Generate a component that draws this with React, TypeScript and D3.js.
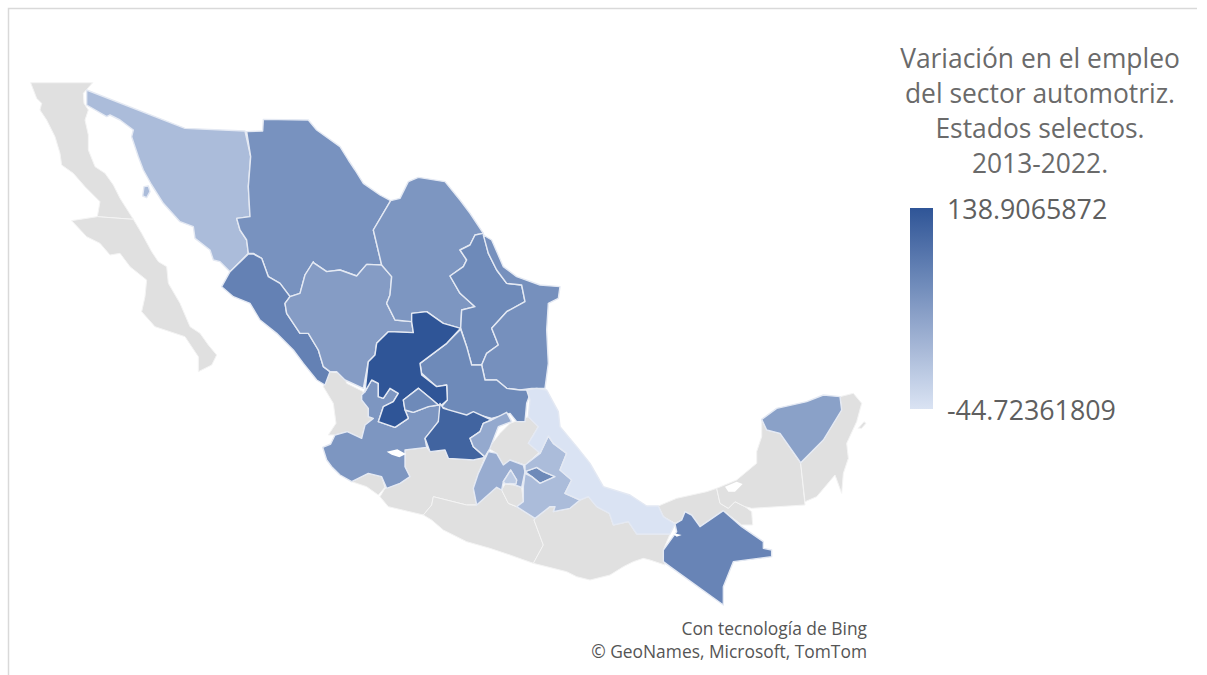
import React from "react";
import * as d3 from "d3";

type Pt = [number, number];

// Outlines were digitised on local survey sheets at 3 grid units per map unit.
const sheet = (ox: number, oy: number) => (...n: number[]): Pt[] => {
  const out: Pt[] = [];
  for (let i = 0; i < n.length; i += 2) out.push([ox + n[i] / 3, oy + n[i + 1] / 3]);
  return out;
};
const nw = sheet(20, 70);
const north = sheet(300, 170);
const centre = sheet(310, 360);
const isthmus = sheet(560, 380);
const valley = sheet(460, 410);
const bajio = sheet(350, 350);

const titleLines = ["Variación en el empleo", "del sector automotriz.", "Estados selectos.", "2013-2022."];
const legendMax = 138.9065872;
const legendMin = -44.72361809;
const legendLabels = ["138.9065872", "-44.72361809"];
const creditLines = ["Con tecnología de Bing", "© GeoNames, Microsoft, TomTom"];

// Estimated employment change per state; null means no data for that state.
const stateNames = [
  "Baja California", "Baja California Sur", "Nayarit", "Colima", "Michoacán", "Guerrero", "Morelos", "Hidalgo",
  "Oaxaca", "Tabasco", "Campeche", "Quintana Roo", "Sonora", "Chihuahua", "Sinaloa", "Durango", "Coahuila",
  "Nuevo León", "Tamaulipas", "San Luis Potosí", "Jalisco", "Zacatecas", "Aguascalientes", "Guanajuato",
  "Querétaro", "Estado de México", "Ciudad de México", "Tlaxcala", "Puebla", "Veracruz", "Yucatán", "Chiapas",
];
const stateValues: (number | null)[] = [
  null, null, null, null, null, null, null, null,
  null, null, null, null, 6, 60, 82, 47, 55,
  71, 63, 71, 55, 138.9, 71, 120,
  30, 26, -15, 71, 6, -44.7, 41, 78,
];

const stateOutlines: Pt[][][] = [
  [nw(32,38,218,38,190,70,192,100,205,120,195,150,205,195,205,240,225,290,255,310,280,345,300,385,340,448,232,440,240,395,195,350,160,310,125,285,120,250,105,200,80,150,60,120,65,100,50,85)],
  [nw(232,440,340,448,365,490,395,545,415,575,440,590,445,640,480,700,510,770,540,790,565,825,590,855,575,885,535,905,535,860,495,800,405,770,365,725,375,680,380,630,330,590,300,550,270,555,240,520,200,500,155,452)],
  [centre(55,35,100,40,110,70,160,95,155,120,175,145,175,170,190,175,165,195,155,235,112,215,75,225,55,225,78,190,70,130,40,80)],
  [centre(125,365,175,340,215,350,225,382,205,405,170,380)],
  [[...centre(285,270,350,262,360,275,405,270,415,295,490,300,525,292), ...valley(55,190,40,235,50,285), ...centre(470,435,370,410,365,435,340,465,235,440,210,410,225,385,270,370,300,350,285,320,285,290)]],
  [[...centre(340,465,365,435,370,410,470,435), ...valley(50,285,110,232,125,240,145,280,170,290,225,325), ...centre(672,480,700,555,670,610,600,585,540,565,470,545,400,510,365,480)]],
  [valley(125,240,135,222,162,225,185,232,190,275,170,290,145,280)],
  [valley(85,115,120,70,150,40,205,20,235,50,205,100,250,90,235,130,195,165,150,150,130,165,110,130)],
  [[...centre(670,610,700,555,672,480), ...valley(225,325,270,290,285,290,280,305,330,295,360,270), ...isthmus(85,350,110,380,148,400,160,435,205,425,230,462,330,462,310,510,315,555,270,540,250,535,220,545,190,560,150,585,90,600,50,590,20,575,0,570)]],
  [isthmus(295,378,350,355,440,335,470,325,480,370,505,385,525,365,555,380,575,395,578,435,545,435,490,392,420,440,395,405,375,395,365,420,345,430,310,410)],
  [isthmus(605,120,620,150,660,160,722,250,735,375,575,385,555,380,525,365,505,385,480,370,470,325,530,300,590,250,590,215,605,170)],
  [isthmus(840,50,880,40,905,70,890,125,860,190,865,235,850,280,845,340,825,285,770,350,735,365,722,250,790,180,845,90), isthmus(895,145,912,125,918,130,905,145)],
  [nw(200,60,495,175,675,183,692,260,685,350,690,440,650,445,660,480,680,510,685,550,630,605,600,575,580,570,570,540,525,505,520,470,480,455,430,400,395,345,370,300,355,260,335,200,340,180,300,150,270,135,260,140,200,105), nw(372,350,385,348,390,365,380,383,368,378)],
  [[...nw(680,185,728,183,730,148,865,150,890,180,960,230,985,270), ...north(165,0,190,40,240,75,272,92,220,180,245,285,200,283,170,318,120,300,80,305,40,278), ...nw(855,615,840,670,810,680,780,640,745,620,725,565,700,550,685,550,680,510,660,480,650,445,690,440,685,350,692,260)]],
  [[...nw(700,552,725,565,745,620,780,640,810,680,795,700,800,730,840,790), ...north(25,490,55,540,70,590,90,605,75,645,50,630), ...nw(850,880,820,840,770,790,720,750,690,700,640,680,605,650,630,605,685,552)]],
  [[...north(40,278,80,305,120,300,170,318,200,283,245,285,275,320,270,375,260,400,285,450,335,455,340,488,265,485,230,520,225,555,205,575,190,655,135,630,110,605,90,605,70,590,55,540,25,490), ...nw(840,790,800,730,795,700,810,680,840,670,855,615,880,575)]],
  [north(272,92,300,85,325,35,355,22,435,35,480,90,510,130,550,190,525,195,510,225,480,240,500,270,490,290,450,318,480,370,525,410,485,420,482,475,430,460,380,425,335,430,335,455,285,450,260,400,270,375,275,320,245,285,220,180)],
  [north(525,195,550,190,565,250,590,300,620,340,665,345,675,395,620,425,575,475,595,525,560,550,545,585,515,585,500,530,482,475,485,420,525,410,480,370,450,318,490,290,500,270,480,240,510,225)],
  [north(550,195,575,210,610,290,650,320,720,345,780,350,775,385,745,400,740,480,745,580,735,655,695,655,660,660,620,655,590,630,555,630,545,585,560,550,595,525,575,475,620,425,675,395,665,345,620,340,590,300,565,250)],
  [[...north(482,478,500,530,515,585,545,585,555,630,590,630,620,655,660,660,695,660,680,700,675,755,650,755,630,730,575,745,520,730,495,745,425,710), ...bajio(292,150,290,105,260,110), ...north(365,610,360,580,400,550,440,520)]],
  [[...bajio(35,135,45,125,65,90,85,100,85,140,100,145,120,115,145,130,130,155,100,170,85,215,135,232,175,205,165,180,190,187,235,170,265,165,275,170), ...centre(385,185,345,235,350,262,285,270,285,320,300,350,270,370,230,385,215,350,175,340,125,365,90,345,65,320,50,300,38,262,62,252,75,225,112,215,155,235,165,195,190,175,175,170,175,145,155,120)]],
  [[...north(335,430,380,425,430,460,482,475,440,520,400,550,360,580), ...bajio(215,75,260,110,290,105,292,150,275,165,265,165,245,148,205,115,160,150,165,180,175,205,135,232,85,215,100,170,130,155,145,130,120,115,100,145,85,140,85,100,65,90,45,125), ...north(205,575,225,555,230,520,265,485,340,488,335,455)]],
  [bajio(160,150,205,115,245,148,265,165,235,170,190,187,165,180)],
  [centre(400,145,470,165,490,155,545,180,520,190,510,215,480,235,490,260,525,292,490,300,415,295,405,270,360,275,345,235,385,185,390,130)],
  [centre(480,235,510,215,520,190,545,180,590,157,605,185,565,200,540,265,525,290,490,260)],
  [valley(85,125,110,130,130,165,150,150,190,165,195,185,185,232,165,225,170,210,152,180,130,215,125,240,110,232,50,285,40,235,55,190)],
  [valley(152,180,170,210,168,222,135,220,130,215)],
  [centre(645,335,680,322,700,335,735,350,690,370,665,350)],
  [[...valley(240,130,265,78,280,100,320,130,300,180,335,210,315,250,360,270,330,295,280,305,285,290,270,290,225,325,170,290,190,275,190,230,195,190), ...centre(665,350,690,370,735,350,700,335,680,322,645,335), ...valley(195,165)]],
  [[...centre(660,120,650,90,680,85,710,90,745,155), ...isthmus(0,140,50,200,90,250,130,320,210,345,260,378,295,378,310,410,345,432,330,462,230,462,205,425,160,435,148,400,110,380,85,350), ...valley(360,270,315,250,335,210,300,180,320,130,280,100,265,78,240,130,205,100,235,50,205,20)]],
  [isthmus(605,118,650,85,740,65,790,45,840,50,845,90,790,180,722,248,660,160,620,150)],
  [isthmus(345,432,365,420,375,395,395,405,420,440,490,392,545,440,610,485,610,505,635,510,635,530,520,545,490,620,490,675,330,560,310,545,310,510,350,455)],
];

// Water bodies stay unfilled inside the state outlines.
const waterOutlines: Pt[][] = [
  centre(230,275,262,268,288,282,268,292,245,284),
  isthmus(335,458,365,465,350,470),
  isthmus(495,320,530,305,548,312,525,335,505,335),
];

const noDataFill = "#e0e0e0";
const colorScale = d3.scaleLinear<string>().domain([legendMin, legendMax]).range(["#dae3f3", "#2f5597"]);
const yLegend = d3.scaleLinear().domain([legendMin, legendMax]).range([409, 208]);
const legendStops = d3.range(0, 1.01, 0.1).map((t) => legendMin + t * (legendMax - legendMin));

const geoPath = d3.geoPath(d3.geoIdentity());
const closeRing = (r: Pt[]) => [...r, r[0]];
const toPath = (rings: Pt[][]) =>
  geoPath({ type: "MultiPolygon", coordinates: rings.map((r) => [closeRing(r)]) } as any) ?? "";

const sans = "'Open Sans', sans-serif";

export default function App() {
  return (
    <svg width={1207} height={675} style={{ position: "absolute", left: 0, top: 0, display: "block", background: "#fff" }}>
      <defs>
        <linearGradient id="legend-ramp" x1="0" y1="1" x2="0" y2="0">
          {legendStops.map((v, i) => (
            <stop key={i} offset={i / (legendStops.length - 1)} stopColor={colorScale(v)} />
          ))}
        </linearGradient>
      </defs>

      <path d="M8.5 675V8.5H1197" fill="none" stroke="#d9d9d9" strokeWidth={1.5} />

      <g strokeLinejoin="round">
        {stateNames.map((name, i) => {
          const v = stateValues[i];
          return (
            <path
              key={name}
              d={toPath(stateOutlines[i])}
              fill={v === null ? noDataFill : colorScale(v)}
              stroke={v === null ? "#f4f4f4" : "#e4e9f3"}
              strokeWidth={v === null ? 1 : 1.4}
            />
          );
        })}
        <path d={toPath(waterOutlines)} fill="#fff" />
      </g>

      <g textAnchor="middle" fontFamily={sans} fontSize={26.4} fill="#6a6a6a">
        {titleLines.map((t, i) => (
          <text key={t} x={1040} y={68 + i * 35}>{t}</text>
        ))}
      </g>

      <rect x={910} y={yLegend(legendMax)} width={23} height={yLegend(legendMin) - yLegend(legendMax)} fill="url(#legend-ramp)" />
      <g fontFamily={sans} fontSize={26.8} fill="#5f5f5f">
        <text x={947} y={yLegend(legendMax) + 11}>{legendLabels[0]}</text>
        <text x={947} y={yLegend(legendMin) + 11}>{legendLabels[1]}</text>
      </g>

      <g textAnchor="end" fontFamily={sans} fontSize={17.4} fill="#555">
        <text x={867} y={635}>{creditLines[0]}</text>
        <text x={867} y={658}>{creditLines[1]}</text>
      </g>
    </svg>
  );
}
